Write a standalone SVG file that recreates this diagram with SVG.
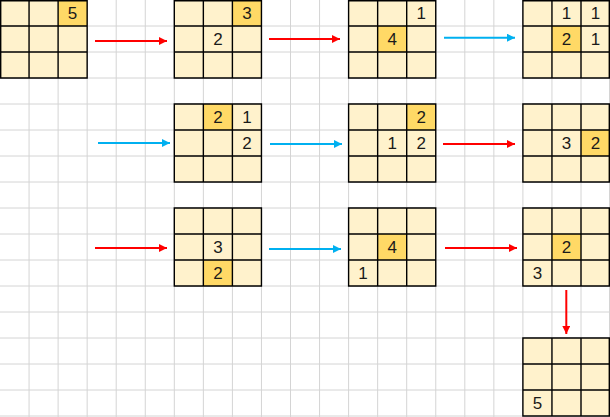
<svg xmlns="http://www.w3.org/2000/svg" width="610" height="417" viewBox="0 0 610 417">
<style>
.grid{stroke:#D4D4D4;stroke-width:1;fill:none}
.cell{fill:#FFF2CC}
.hl{fill:#FFD966}
.bd{stroke:#000;stroke-width:1.4;fill:none}
.n{font-family:"Liberation Sans","Noto Sans",sans-serif;font-size:17px;fill:#1a1a1a;text-anchor:middle}
.r{stroke:#FF0000;stroke-width:2;fill:none}
.b{stroke:#00B0F0;stroke-width:2;fill:none}
</style>
<defs>
<marker id="ar" markerUnits="userSpaceOnUse" markerWidth="8" markerHeight="8" refX="8" refY="4" orient="auto"><path d="M0,0 L8,4 L0,8 z" fill="#FF0000"/></marker>
<marker id="ab" markerUnits="userSpaceOnUse" markerWidth="8" markerHeight="8" refX="8" refY="4" orient="auto"><path d="M0,0 L8,4 L0,8 z" fill="#00B0F0"/></marker>
</defs>
<rect x="0" y="0" width="610" height="417" fill="#fff"/>
<path class="grid" d="M29.05,0V417M58.1,0V417M87.15,0V417M116.2,0V417M145.25,0V417M174.3,0V417M203.35,0V417M232.4,0V417M261.45,0V417M290.5,0V417M319.55,0V417M348.6,0V417M377.65,0V417M406.7,0V417M435.75,0V417M464.8,0V417M493.85,0V417M522.9,0V417M551.95,0V417M581,0V417M609.5,0V417
M0,26H610M0,52H610M0,78H610M0,104H610M0,130H610M0,156H610M0,182H610M0,208H610M0,234H610M0,260H610M0,286H610M0,312H610M0,338H610M0,364H610M0,390H610M0,416H610"/>

<g id="box1">
<rect class="cell" x="0" y="0" width="87.15" height="78"/>
<rect class="hl" x="58.1" y="0" width="29.05" height="26"/>
<path class="bd" d="M0.7,0.7H87.15V78H0.7Z M29.05,0V78M58.1,0V78M0,26H87.15M0,52H87.15"/>
<text class="n" x="72.6" y="19">5</text>
</g>

<g id="box2">
<rect class="cell" x="174.3" y="0" width="87.15" height="78"/>
<rect class="hl" x="232.4" y="0" width="29.05" height="26"/>
<path class="bd" d="M174.3,0.7H261.45V78H174.3Z M203.35,0V78M232.4,0V78M174.3,26H261.45M174.3,52H261.45"/>
<text class="n" x="246.9" y="19">3</text>
<text class="n" x="217.9" y="45">2</text>
</g>

<g id="box3">
<rect class="cell" x="348.6" y="0" width="87.15" height="78"/>
<rect class="hl" x="377.65" y="26" width="29.05" height="26"/>
<path class="bd" d="M348.6,0.7H435.75V78H348.6Z M377.65,0V78M406.7,0V78M348.6,26H435.75M348.6,52H435.75"/>
<text class="n" x="421.2" y="19">1</text>
<text class="n" x="392.2" y="45">4</text>
</g>

<g id="box4">
<rect class="cell" x="522.9" y="0" width="87.1" height="78"/>
<rect class="hl" x="551.95" y="26" width="29.05" height="26"/>
<path class="bd" d="M522.9,0.7H609.3V78H522.9Z M551.95,0V78M581,0V78M522.9,26H610M522.9,52H610"/>
<text class="n" x="566.5" y="19">1</text>
<text class="n" x="595.5" y="19">1</text>
<text class="n" x="566.5" y="45">2</text>
<text class="n" x="595.5" y="45">1</text>
</g>

<g id="box5">
<rect class="cell" x="174.3" y="104" width="87.15" height="78"/>
<rect class="hl" x="203.35" y="104" width="29.05" height="26"/>
<path class="bd" d="M174.3,104H261.45V182H174.3Z M203.35,104V182M232.4,104V182M174.3,130H261.45M174.3,156H261.45"/>
<text class="n" x="217.9" y="123">2</text>
<text class="n" x="246.9" y="123">1</text>
<text class="n" x="246.9" y="149">2</text>
</g>

<g id="box6">
<rect class="cell" x="348.6" y="104" width="87.15" height="78"/>
<rect class="hl" x="406.7" y="104" width="29.05" height="26"/>
<path class="bd" d="M348.6,104H435.75V182H348.6Z M377.65,104V182M406.7,104V182M348.6,130H435.75M348.6,156H435.75"/>
<text class="n" x="421.2" y="123">2</text>
<text class="n" x="392.2" y="149">1</text>
<text class="n" x="421.2" y="149">2</text>
</g>

<g id="box7">
<rect class="cell" x="522.9" y="104" width="87.1" height="78"/>
<rect class="hl" x="581" y="130" width="29" height="26"/>
<path class="bd" d="M522.9,104H609.3V182H522.9Z M551.95,104V182M581,104V182M522.9,130H610M522.9,156H610"/>
<text class="n" x="566.5" y="149">3</text>
<text class="n" x="595.5" y="149">2</text>
</g>

<g id="box8">
<rect class="cell" x="174.3" y="208" width="87.15" height="78"/>
<rect class="hl" x="203.35" y="260" width="29.05" height="26"/>
<path class="bd" d="M174.3,208H261.45V286H174.3Z M203.35,208V286M232.4,208V286M174.3,234H261.45M174.3,260H261.45"/>
<text class="n" x="217.9" y="253">3</text>
<text class="n" x="217.9" y="279">2</text>
</g>

<g id="box9">
<rect class="cell" x="348.6" y="208" width="87.15" height="78"/>
<rect class="hl" x="377.65" y="234" width="29.05" height="26"/>
<path class="bd" d="M348.6,208H435.75V286H348.6Z M377.65,208V286M406.7,208V286M348.6,234H435.75M348.6,260H435.75"/>
<text class="n" x="392.2" y="253">4</text>
<text class="n" x="363.1" y="279">1</text>
</g>

<g id="box10">
<rect class="cell" x="522.9" y="208" width="87.1" height="78"/>
<rect class="hl" x="551.95" y="234" width="29.05" height="26"/>
<path class="bd" d="M522.9,208H609.3V286H522.9Z M551.95,208V286M581,208V286M522.9,234H610M522.9,260H610"/>
<text class="n" x="566.5" y="253">2</text>
<text class="n" x="537.4" y="279">3</text>
</g>

<g id="box11">
<rect class="cell" x="522.9" y="338" width="87.1" height="78"/>
<path class="bd" d="M522.9,338H609.3V416H522.9Z M551.95,338V416M581,338V416M522.9,364H610M522.9,390H610"/>
<text class="n" x="537.4" y="409">5</text>
</g>

<g id="connectors">
<line class="r" x1="95" y1="41" x2="167" y2="41" marker-end="url(#ar)"/>
<line class="r" x1="269" y1="39" x2="340" y2="39" marker-end="url(#ar)"/>
<line class="b" x1="444" y1="37.7" x2="515" y2="37.7" marker-end="url(#ab)"/>
<line class="b" x1="98" y1="143" x2="170" y2="143" marker-end="url(#ab)"/>
<line class="b" x1="270" y1="144" x2="342" y2="144" marker-end="url(#ab)"/>
<line class="r" x1="443" y1="144" x2="515" y2="144" marker-end="url(#ar)"/>
<line class="r" x1="95" y1="248" x2="167" y2="248" marker-end="url(#ar)"/>
<line class="b" x1="269" y1="249" x2="341" y2="249" marker-end="url(#ab)"/>
<line class="r" x1="445" y1="248" x2="517" y2="248" marker-end="url(#ar)"/>
<line class="r" x1="566.3" y1="290" x2="566.3" y2="334" marker-end="url(#ar)"/>
</g>
</svg>
